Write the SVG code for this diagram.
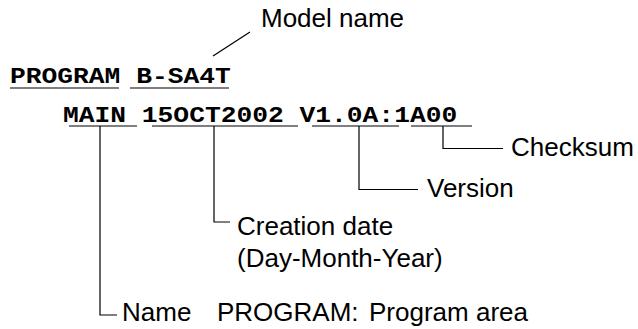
<svg xmlns="http://www.w3.org/2000/svg" width="638" height="329" viewBox="0 0 638 329">
<style>
.code{font-family:"Liberation Mono","Courier New",monospace;font-weight:bold;font-size:26.3px;fill:#000}
.lbl{font-family:"Liberation Sans",Arial,sans-serif;font-size:26px;fill:#000}
.ln{stroke:#000;stroke-width:1.2;fill:none}
</style>
<rect width="638" height="329" fill="#fff"/>
<g id="code-line1">
<text class="code" x="10" y="0" transform="translate(0,82.5) scale(1,0.84)">PROGRAM B-SA4T</text>
<path class="ln" d="M10 88H119M130 88H229"/>
</g>
<g id="code-line2">
<text class="code" x="63" y="0" transform="translate(0,122) scale(1,0.84)">MAIN 15OCT2002 V1.0A:1A00</text>
<path class="ln" d="M69 126H137M152 126H298M312 126H399M411 126H472"/>
</g>
<g id="label-model"><text class="lbl" x="261" y="27">Model name</text></g>
<g id="label-checksum"><text class="lbl" x="511" y="156">Checksum</text></g>
<g id="label-version"><text class="lbl" x="427" y="197">Version</text></g>
<g id="label-date"><text class="lbl" x="237" y="234.5">Creation date</text><text class="lbl" x="237" y="266.5">(Day-Month-Year)</text></g>
<g id="label-name"><text class="lbl" y="321"><tspan x="122">Name</tspan><tspan x="217">PROGRAM:</tspan><tspan x="369">Program area</tspan></text></g>
<g id="connectors">
<path class="ln" d="M213 56L250 32"/>
<path class="ln" d="M100 126V315H117"/>
<path class="ln" d="M214 126V222H230"/>
<path class="ln" d="M359 126V189.5H418"/>
<path class="ln" d="M443 126V148.5H503"/>
</g>
</svg>
